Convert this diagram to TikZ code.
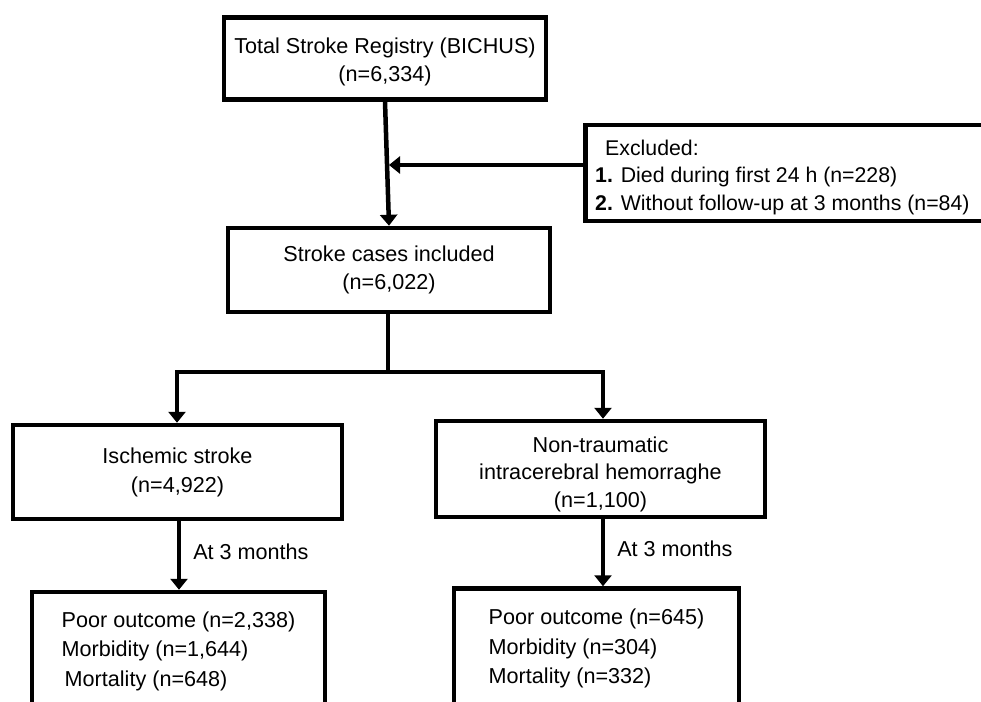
\documentclass[tikz,border=0pt]{standalone}
\usepackage{fontspec}
\setmainfont{Liberation Sans}
\usetikzlibrary{arrows.meta}
\begin{document}
\begin{tikzpicture}[x=1pt,y=-1pt,
  box/.style={draw=black,line width=4.5pt,rectangle,inner sep=0pt,align=center,
    font=\fontsize{21.6}{28}\selectfont},
  txt/.style={inner sep=0pt,align=center,font=\fontsize{21.6}{28}\selectfont},
  outbox/.style={box,align=left,font=\fontsize{21.6}{29.5}\selectfont},
  conn/.style={line width=4.5pt,draw=black},
  arr/.style={conn,-{Triangle[width=17pt,length=11pt]}},
  lbl/.style={font=\fontsize{21.6}{26}\selectfont,inner sep=0pt,anchor=west}]
\useasboundingbox (0,0) rectangle (981,701);
\clip (0,0) rectangle (981,701);
% boxes
\node[box,minimum width=322pt,minimum height=82pt] (top) at (385,58.5) {};
\node[txt] (topt) at ([yshift=-3pt]top.center) {Total Stroke Registry (BICHUS)\\(n=6,334)};
\node[box,minimum width=322pt,minimum height=84pt] (incl) at (389,270)
  {Stroke cases included\\(n=6,022)};
\node[box,anchor=west,minimum width=420pt,minimum height=96pt] (excl) at (583,173) {};
\node[txt,anchor=west,align=left,font=\fontsize{21.3}{27.5}\selectfont] (exclt) at ([xshift=12pt,yshift=-4pt]excl.west)
  {\hspace*{10pt}Excluded:\\\textbf{1.} Died during first 24 h (n=228)\\\textbf{2.} Without follow-up at 3 months (n=84)};
\node[box,minimum width=329pt,minimum height=94pt,font=\fontsize{21.6}{29}\selectfont] (isch) at (177.5,472)
  {Ischemic stroke\\(n=4,922)};
\node[box,minimum width=329pt,minimum height=96pt] (ich) at (600.5,469) {};
\node[txt,font=\fontsize{21.6}{27.5}\selectfont] (icht) at ([yshift=-5pt]ich.center)
  {Non-traumatic\\intracerebral hemorraghe\\(n=1,100)};
\node[outbox,minimum width=293pt,minimum height=118pt] (out1) at (178.5,651)
  {Poor outcome (n=2,338)\\Morbidity (n=1,644)\\\hspace*{3pt}Mortality (n=648)};
\node[outbox,minimum width=285pt,minimum height=120pt] (out2) at (596.5,648.5)
  {Poor outcome (n=645)\\Morbidity (n=304)\\Mortality (n=332)};
% connectors
\coordinate (j) at (389,165);
\coordinate (b) at (388,372);
\coordinate (bl) at (177,372);
\coordinate (br) at (603,372);
\draw[arr] (top.south) -- (incl.north);
\draw[arr] (excl.west |- j) -- (j);
\draw[conn] (incl.south -| b) -- (b);
\draw[conn,line cap=rect] (bl) -- (br);
\draw[arr] (bl) -- (bl |- isch.north);
\draw[arr] (br) -- (br |- ich.north);
\draw[arr] ([xshift=1.5pt]isch.south) -- ([xshift=1.5pt]isch.south |- out1.north)
  node[lbl,pos=0.44,xshift=12pt] {At 3 months};
\draw[arr] ([xshift=2.5pt]ich.south) -- ([xshift=2.5pt]ich.south |- out2.north)
  node[lbl,pos=0.44,xshift=12pt] {At 3 months};
\end{tikzpicture}
\end{document}
